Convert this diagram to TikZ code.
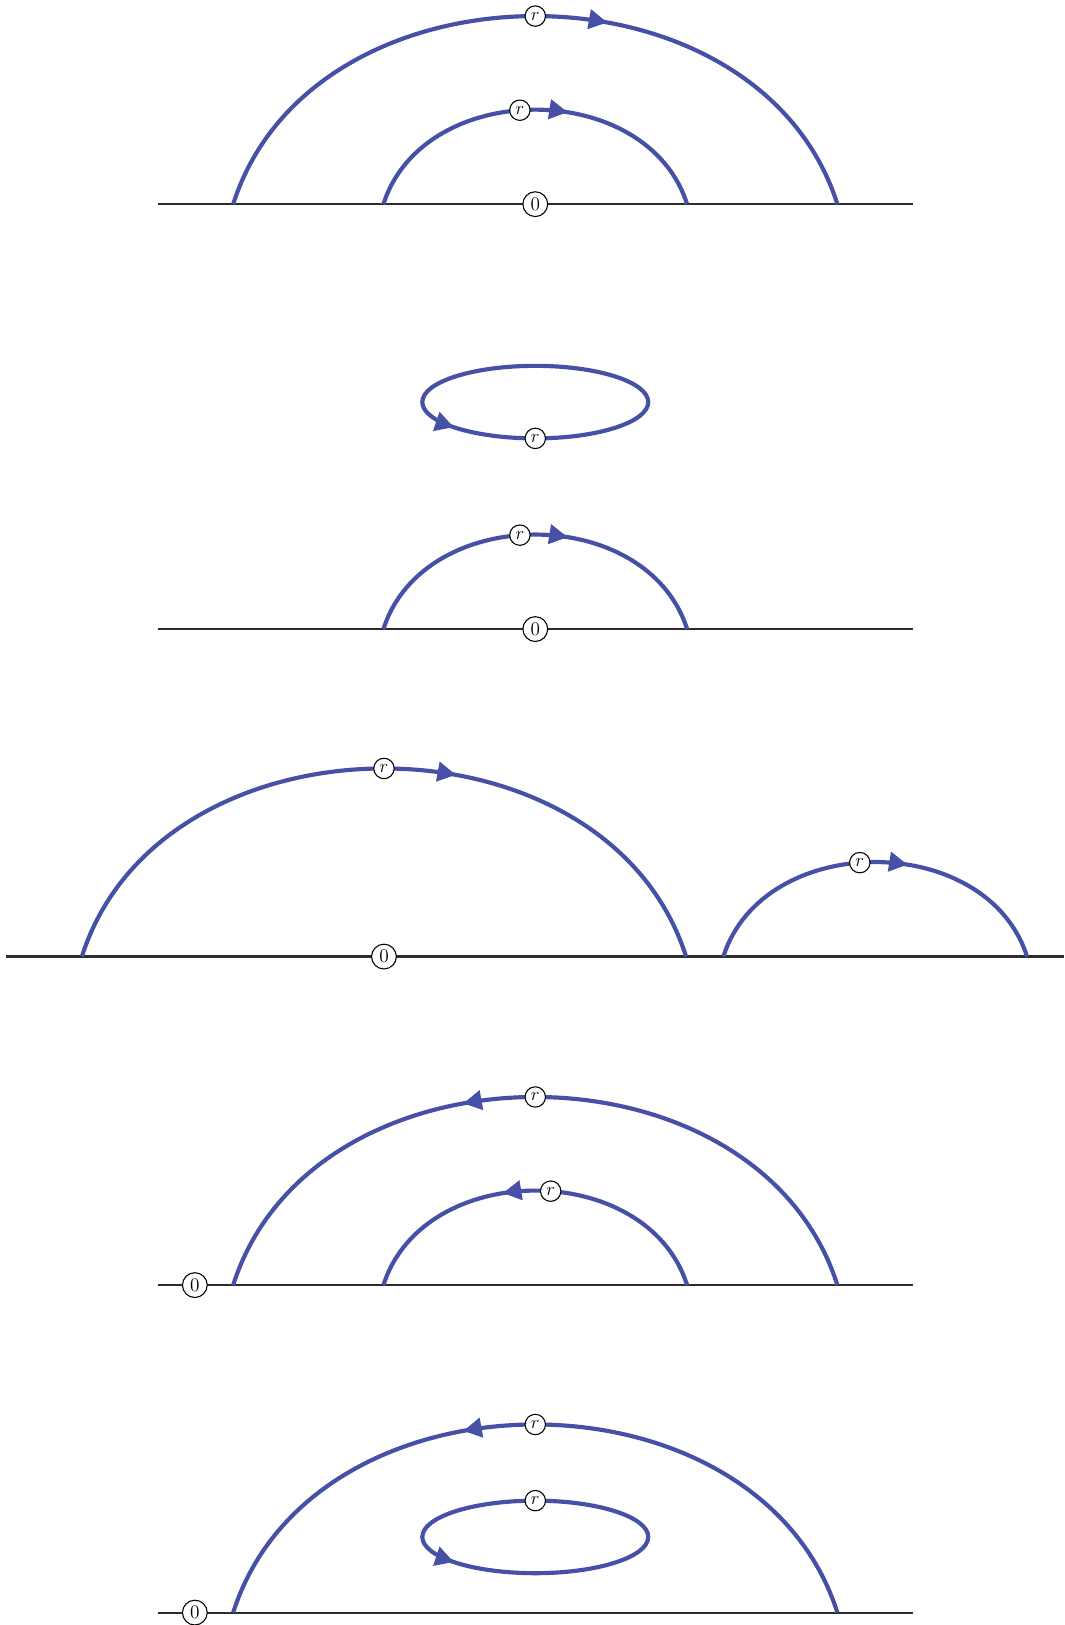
\documentclass[tikz,border=0pt]{standalone}
\usetikzlibrary{decorations.markings,arrows.meta}
\definecolor{arcblue}{RGB}{70,80,166}
\definecolor{axisgray}{RGB}{45,45,45}
\begin{document}
\begin{tikzpicture}[x=0.673pt,y=-0.673pt,
  axisline/.style={draw=axisgray,line width=1.4pt},
  bluearc/.style={color=arcblue,line width=2.7pt},
  lab/.style={circle,draw=black,line width=0.7pt,fill=white,inner sep=2pt,text=black,font=\fontsize{12.5}{15}\selectfont},
  arrowat/.style={postaction={decorate},decoration={markings,mark=at position #1 with {\arrow{Triangle[length=12pt,width=12.5pt]}}}},
]
\useasboundingbox (0,0) rectangle (1027,1568);

% ---------- panel 1 ----------
\coordinate (b1L) at (152,197); \coordinate (b1R) at (881,197);
\draw[axisline] (b1L) -- (b1R);
\coordinate (o1s) at (225,197); \coordinate (o1e) at (808,197);
\coordinate (i1s) at (370,197); \coordinate (i1e) at (663,197);
\draw[bluearc,arrowat=0.595] (o1s) .. controls +(77,-242) and +(-77,-242) .. node[lab,pos=0.5] (r1o) {$r$} (o1e);
\draw[bluearc,arrowat=0.585] (i1s) .. controls +(38.7,-121.6) and +(-38.7,-121.6) .. node[lab,pos=0.461] (r1i) {$r$} (i1e);
\node[lab] (z1) at (516.5,197) {0};

% ---------- panel 2 ----------
\coordinate (e2s) at (407.5,388);
\draw[bluearc,arrowat=0.085] (e2s) arc[start angle=180,end angle=-180,x radius=109,y radius=35] -- cycle;
\node[lab] (r2) at (516.5,423) {$r$};

% ---------- panel 3 ----------
\coordinate (b3L) at (152,607); \coordinate (b3R) at (881,607);
\draw[axisline] (b3L) -- (b3R);
\coordinate (i3s) at (370,607); \coordinate (i3e) at (663,607);
\draw[bluearc,arrowat=0.585] (i3s) .. controls +(38.7,-121.6) and +(-38.7,-121.6) .. node[lab,pos=0.461] (r3) {$r$} (i3e);
\node[lab] (z3) at (516.5,607) {0};

% ---------- panel 4 ----------
\coordinate (b4L) at (6,923); \coordinate (b4R) at (1027,923);
\draw[axisline] (b4L) -- (b4R);
\coordinate (o4s) at (79,923); \coordinate (o4e) at (662,923);
\coordinate (s4s) at (698,923); \coordinate (s4e) at (991,923);
\draw[bluearc,arrowat=0.595] (o4s) .. controls +(77,-242) and +(-77,-242) .. node[lab,pos=0.5] (r4o) {$r$} (o4e);
\draw[bluearc,arrowat=0.585] (s4s) .. controls +(38.7,-121.6) and +(-38.7,-121.6) .. node[lab,pos=0.461] (r4s) {$r$} (s4e);
\node[lab] (z4) at (370.5,923) {0};

% ---------- panel 5 ----------
\coordinate (b5L) at (152,1240); \coordinate (b5R) at (881,1240);
\draw[axisline] (b5L) -- (b5R);
\coordinate (o5s) at (808,1240); \coordinate (o5e) at (225,1240);
\coordinate (i5s) at (663,1240); \coordinate (i5e) at (370,1240);
\draw[bluearc,arrowat=0.595] (o5s) .. controls +(-77,-242) and +(77,-242) .. node[lab,pos=0.5] (r5o) {$r$} (o5e);
\draw[bluearc,arrowat=0.585] (i5s) .. controls +(-38.7,-121.6) and +(38.7,-121.6) .. node[lab,pos=0.461] (r5i) {$r$} (i5e);
\node[lab] (z5) at (188,1240) {0};

% ---------- panel 6 ----------
\coordinate (b6L) at (152,1556); \coordinate (b6R) at (881,1556);
\draw[axisline] (b6L) -- (b6R);
\coordinate (o6s) at (808,1556); \coordinate (o6e) at (225,1556);
\draw[bluearc,arrowat=0.595] (o6s) .. controls +(-77,-242) and +(77,-242) .. node[lab,pos=0.5] (r6o) {$r$} (o6e);
\coordinate (e6s) at (407.5,1483);
\draw[bluearc,arrowat=0.085] (e6s) arc[start angle=180,end angle=-180,x radius=109,y radius=35] -- cycle;
\node[lab] (r6e) at (516.5,1448) {$r$};
\node[lab] (z6) at (188,1556) {0};
\end{tikzpicture}
\end{document}
